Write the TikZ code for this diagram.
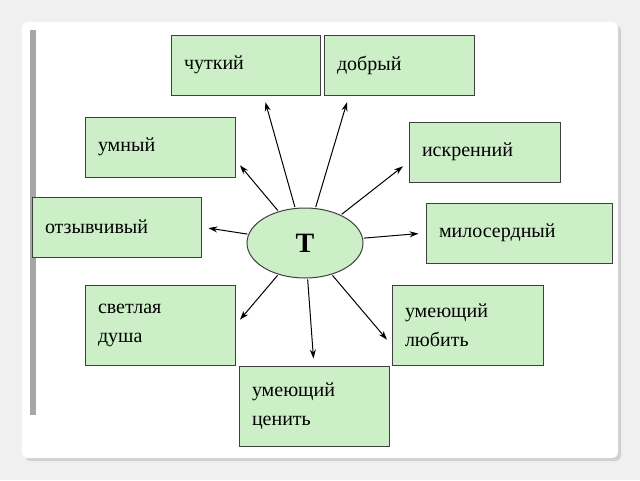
\documentclass[tikz,border=0pt]{standalone}
\usepackage{fontspec}
\setmainfont{Liberation Serif}
\usetikzlibrary{arrows.meta, positioning, shapes.geometric}
\definecolor{mint}{HTML}{CDEFC8}

\begin{document}
\begin{tikzpicture}[
  x=1pt, y=-1pt,
  >={Stealth[length=9pt, width=6pt]},
  quality/.style={
    draw=black!75, fill=mint, line width=1pt,
    minimum height=60pt, text width=#1, inner xsep=13pt, align=left,
    font=\fontsize{20}{29}\selectfont
  },
  quality/.default=120pt,
  link/.style={->, line width=1pt, shorten >=7pt, shorten <=1pt},
]

%%% Page and panel
\fill[black!6] (0,0) rectangle (640,480);
\useasboundingbox (0,0) rectangle (640,480);
\fill[black!18, rounded corners=6pt] (25,25) rectangle (621,461);
\fill[white, rounded corners=6pt] (22,22) rectangle (618,458);
\fill[black!35] (30,30) rectangle (36,415);

%%% Centre
\node[ellipse, draw=black!75, fill=mint, line width=1pt,
  minimum width=116pt, minimum height=70pt,
  font=\fontsize{28}{28}\selectfont\bfseries] (T) at (305,243) {Т};

%%% Qualities
\node[quality=123pt] (chutkiy) at (245.5,65) {чуткий};
\node[quality=124pt] (dobryy) at (399,65) {добрый};
\node[quality=124pt] (umnyy) at (160,147) {умный};
\node[quality=125pt] (iskrenniy) at (484.5,152) {искренний};
\node[quality=143pt] (otzyvchivyy) at (116.5,227) {отзывчивый};
\node[quality=160pt] (miloserdnyy) at (519,233) {милосердный};
\node[quality=124pt, minimum height=80pt] (svetlaya) at (160,325)
  {светлая\\душа};
\node[quality=125pt, minimum height=80pt] (lyubit) at (467.5,325)
  {умеющий\\любить};
\node[quality=124pt, minimum height=80pt] (tsenit) at (314,406)
  {умеющий\\ценить};

%%% Arrows
\draw[link] (T) -- ([xshift=18pt]chutkiy.south);
\draw[link] (T) -- ([xshift=-50pt]dobryy.south);
\draw[link] (T) -- ([yshift=-13pt]umnyy.east);
\draw[link] (T) -- ([yshift=-10pt]iskrenniy.west);
\draw[link] (T) -- (otzyvchivyy.east);
\draw[link] (T) -- (miloserdnyy.west);
\draw[link] (T) -- (svetlaya.east);
\draw[link] (T) -- ([yshift=-20pt]lyubit.west);
\draw[link] (T) -- (tsenit.north);

\end{tikzpicture}
\end{document}
